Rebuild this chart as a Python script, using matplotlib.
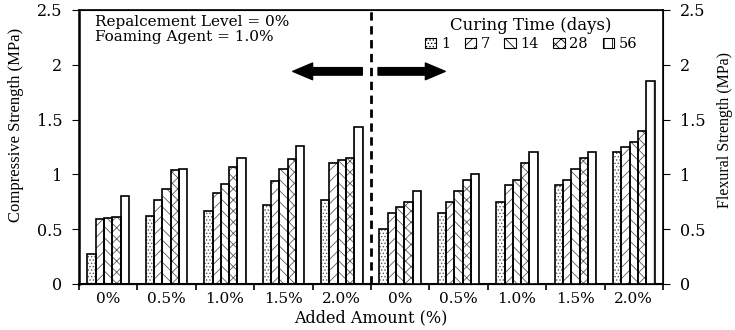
import matplotlib
matplotlib.use("Agg")
import matplotlib.pyplot as plt
import numpy as np
from matplotlib.patches import Patch

plt.rcParams["font.family"] = "DejaVu Serif"
plt.rcParams["hatch.linewidth"] = 0.6

amounts = ["0%", "0.5%", "1.0%", "1.5%", "2.0%"]
days = ["1", "7", "14", "28", "56"]
hatches = [".....", "///", "\\\\\\", "xxx", "||"]

# compressive strength (MPa), rows = added amount, cols = curing days
compressive = [
    [0.27, 0.59, 0.60, 0.61, 0.80],
    [0.62, 0.77, 0.87, 1.04, 1.05],
    [0.67, 0.83, 0.91, 1.07, 1.15],
    [0.72, 0.94, 1.05, 1.14, 1.26],
    [0.77, 1.10, 1.13, 1.15, 1.43],
]
# flexural strength (MPa)
flexural = [
    [0.50, 0.65, 0.70, 0.75, 0.85],
    [0.65, 0.75, 0.85, 0.95, 1.00],
    [0.75, 0.90, 0.95, 1.10, 1.20],
    [0.90, 0.95, 1.05, 1.15, 1.20],
    [1.20, 1.25, 1.30, 1.40, 1.85],
]

fig = plt.figure(figsize=(7.35, 3.3), dpi=100)
ax = fig.add_axes([0.1075, 0.1394, 0.7946, 0.8303])
ax2 = ax.twinx()

w = 0.142
base = np.arange(5) + 0.5


def draw_groups(a, data, x0):
    data = np.array(data)
    for j in range(5):
        x = x0 + base + (j - 2) * w
        a.bar(x, data[:, j], w, color="white", edgecolor="0.35", lw=0,
              hatch=hatches[j], zorder=2)
        a.bar(x, data[:, j], w, fill=False, edgecolor="black", lw=1.2, zorder=3)


draw_groups(ax, compressive, 0)
draw_groups(ax2, flexural, 5)

for a in (ax, ax2):
    a.set_ylim(0, 2.5)
    a.set_xlim(0, 10)
    a.set_yticks([0, 0.5, 1, 1.5, 2, 2.5])
    a.set_yticklabels(["0", "0.5", "1", "1.5", "2", "2.5"])
    a.tick_params(axis="y", direction="out", length=5, pad=7, labelsize=11.5)

ax.set_xticks(np.arange(11), minor=True)
ax.set_xticks(np.arange(10) + 0.5)
ax.set_xticklabels(amounts * 2, fontsize=11)
ax.tick_params(axis="x", which="major", length=0, pad=6)
ax.tick_params(axis="x", which="minor", direction="out", length=4, width=1.2)

ax.spines["left"].set_linewidth(1.8)
ax.spines["bottom"].set_linewidth(1.5)
ax.spines["top"].set_linewidth(1.2)
ax2.spines["right"].set_linewidth(1.2)

ax.set_ylabel("Compressive Strength (MPa)", fontsize=12, family="Liberation Serif")
ax.yaxis.set_label_coords(-0.095, 0.58)
ax2.set_ylabel("Flexural Strength (MPa)", fontsize=11.5, family="Liberation Serif",
               rotation=90)
ax2.yaxis.set_label_coords(1.093, 0.562)
ax.set_xlabel("Added Amount (%)", fontsize=11.5, labelpad=2)

# divider between the two property groups
ax.axvline(5, color="black", lw=2, ls=(0, (3, 2)), zorder=4)

ax.text(0.27, 2.39, "Repalcement Level = 0%", fontsize=11, va="center")
ax.text(0.27, 2.25, "Foaming Agent = 1.0%", fontsize=11, va="center")

arrow = dict(arrowstyle="simple,head_length=0.95,head_width=0.8,tail_width=0.36",
             color="black", mutation_scale=15, shrinkA=0, shrinkB=0)
ax.annotate("", xy=(3.66, 1.94), xytext=(4.85, 1.94), arrowprops=arrow)
ax.annotate("", xy=(6.27, 1.94), xytext=(5.12, 1.94), arrowprops=arrow)

handles = [Patch(facecolor="white", edgecolor="black", hatch=h, lw=0.8) for h in hatches]
leg = ax2.legend(handles, days, title="Curing Time (days)", ncol=5, frameon=False,
                 loc="center", bbox_to_anchor=(0.774, 0.912), fontsize=10.5,
                 title_fontsize=12, handlelength=0.8, handleheight=0.7,
                 handletextpad=0.3, columnspacing=1.0, labelspacing=0.2)

fig.savefig("out.png", dpi=100)
